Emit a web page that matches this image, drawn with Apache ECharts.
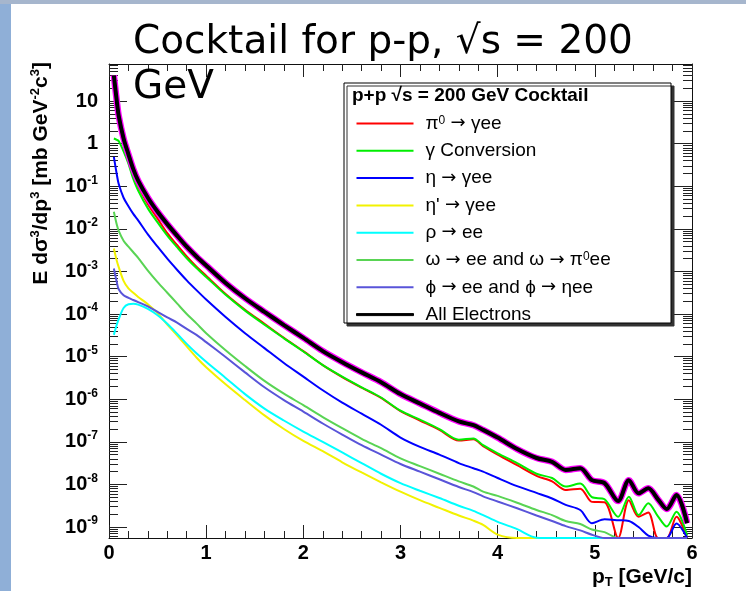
<!DOCTYPE html>
<html>
<head>
<meta charset="utf-8">
<script src="https://cdn.jsdelivr.net/npm/echarts@6/dist/echarts.min.js"></script>
<style>
  html, body { margin: 0; padding: 0; background: #ffffff; }
  #chart { width: 746px; height: 591px; }
</style>
</head>
<body>
<div id="chart"></div>
<script>
// Transverse momentum bin centres (GeV/c)
const pT = [0.05, 0.08, 0.10, 0.15, 0.20, 0.25, 0.30, 0.40, 0.50, 0.60, 0.70, 0.80, 0.90, 1.00,
  1.20, 1.40, 1.60, 1.80, 2.00, 2.20, 2.40, 2.60, 2.80, 3.00, 3.20, 3.40, 3.60, 3.75, 3.85, 4.00,
  4.20, 4.40, 4.56, 4.70, 4.85, 4.97, 5.10, 5.24, 5.35, 5.45, 5.55, 5.65, 5.74, 5.84, 5.95];

// log10 of E d^3sigma/dp^3 [mb GeV^-2 c^3] for each electron source
const log10Pi0 = [1.52, 0.92, 0.55, 0.00, -0.37, -0.74, -1.00, -1.42, -1.76, -2.10, -2.38, -2.65, -2.89, -3.10,
  -3.53, -3.90, -4.23, -4.56, -4.87, -5.20, -5.48, -5.73, -5.97, -6.28, -6.50, -6.72, -6.97, -6.94, -7.10, -7.30,
  -7.55, -7.80, -7.93, -8.13, -8.10, -8.41, -8.42, -9.60, -8.37, -8.76, -8.66, -9.60, -9.60, -8.76, -9.60];
const log10Conversion = [0.12, 0.09, 0.06, -0.18, -0.47, -0.83, -1.10, -1.52, -1.85, -2.16, -2.43, -2.69, -2.92, -3.13,
  -3.55, -3.92, -4.25, -4.57, -4.88, -5.20, -5.47, -5.72, -5.96, -6.27, -6.48, -6.70, -6.95, -6.92, -7.08, -7.27,
  -7.50, -7.75, -7.85, -8.05, -7.98, -8.30, -8.35, -8.76, -8.29, -8.72, -8.44, -8.75, -8.99, -8.64, -9.20];
const log10Eta = [-0.31, -0.72, -0.95, -1.27, -1.47, -1.65, -1.80, -2.13, -2.42, -2.70, -2.96, -3.21, -3.44, -3.66,
  -4.07, -4.45, -4.80, -5.15, -5.47, -5.79, -6.08, -6.34, -6.60, -6.90, -7.12, -7.30, -7.50, -7.62, -7.70, -7.85,
  -8.04, -8.20, -8.33, -8.48, -8.60, -8.91, -8.82, -8.84, -8.86, -9.00, -9.20, -9.60, -9.30, -8.92, -9.60];
const log10EtaPrime = [-2.46, -2.75, -2.90, -3.22, -3.40, -3.50, -3.60, -3.77, -3.98, -4.25, -4.50, -4.76, -5.02, -5.25,
  -5.65, -6.02, -6.38, -6.70, -6.98, -7.22, -7.48, -7.72, -7.95, -8.17, -8.37, -8.55, -8.73, -8.85, -8.95, -9.18,
  -9.60, -9.60, -9.60];
const log10Rho = [-4.49, -4.25, -4.12, -3.86, -3.77, -3.76, -3.78, -3.88, -4.03, -4.23, -4.46, -4.70, -4.92, -5.12,
  -5.50, -5.88, -6.22, -6.50, -6.76, -7.00, -7.25, -7.50, -7.75, -7.97, -8.15, -8.32, -8.50, -8.62, -8.72, -8.88,
  -9.05, -9.25, -9.60, -9.60, -9.60, -9.60, -9.60];
const log10Omega = [-1.60, -1.90, -2.05, -2.28, -2.42, -2.55, -2.68, -2.98, -3.25, -3.50, -3.75, -4.00, -4.22, -4.45,
  -4.85, -5.22, -5.57, -5.87, -6.14, -6.42, -6.68, -6.93, -7.15, -7.39, -7.57, -7.75, -7.93, -8.05, -8.17, -8.27,
  -8.43, -8.60, -8.72, -8.86, -8.93, -9.06, -9.12, -9.60, -9.60, -9.60, -9.60, -9.60, -9.60, -9.60, -9.60];
const log10Phi = [-2.93, -3.25, -3.42, -3.56, -3.62, -3.67, -3.72, -3.82, -3.95, -4.08, -4.20, -4.35, -4.49, -4.66,
  -5.01, -5.37, -5.72, -6.02, -6.29, -6.57, -6.83, -7.08, -7.30, -7.52, -7.70, -7.88, -8.06, -8.18, -8.28, -8.40,
  -8.56, -8.73, -8.86, -8.98, -9.08, -9.18, -9.60, -9.60, -9.60, -9.60, -9.60, -9.60, -9.60, -9.60, -9.60];
const log10AllElectrons = [1.60, 1.00, 0.65, 0.12, -0.25, -0.60, -0.87, -1.27, -1.60, -1.89, -2.16, -2.42, -2.65, -2.86,
  -3.27, -3.63, -3.95, -4.26, -4.56, -4.87, -5.13, -5.37, -5.60, -5.88, -6.10, -6.32, -6.52, -6.61, -6.72, -6.90,
  -7.17, -7.38, -7.47, -7.66, -7.62, -7.90, -7.97, -8.39, -7.90, -8.21, -8.09, -8.35, -8.58, -8.25, -8.91];

// Axis ticks
const xTickValues = [0, 1, 2, 3, 4, 5, 6];
const yDecadeExponents = [1, 0, -1, -2, -3, -4, -5, -6, -7, -8, -9];
const yMinorMantissas = [2, 3, 4, 5, 6, 7, 8, 9];

// Source names, in legend order
const sourceNames = ['pi0', 'conv', 'eta', 'etap', 'rho', 'omega', 'phi', 'all'];
const legendText = {
  pi0: '{t|\u03c0}{s|0}{t| }{a|\u2192}{t| \u03b3ee}',
  conv: '{t|\u03b3 Conversion}',
  eta: '{t|\u03b7 }{a|\u2192}{t| \u03b3ee}',
  etap: '{t|\u03b7\' }{a|\u2192}{t| \u03b3ee}',
  rho: '{t|\u03c1 }{a|\u2192}{t| ee}',
  omega: '{t|\u03c9 }{a|\u2192}{t| ee and \u03c9 }{a|\u2192}{t| \u03c0}{s|0}{t|ee}',
  phi: '{t|\u03d5 }{a|\u2192}{t| ee and \u03d5 }{a|\u2192}{t| \u03b7ee}',
  all: '{t|All Electrons}'
};
const sourceColors = ['#ff0000', '#00ee00', '#0000ff', '#f2f200', '#00ffff', '#59d454', '#5954d9', '#000000'];
const sourceData = [log10Pi0, log10Conversion, log10Eta, log10EtaPrime, log10Rho, log10Omega, log10Phi, log10AllElectrons];

const X_MIN = 0, X_MAX = 6;
const Y_MIN = 5.52e-10, Y_MAX = 74;
const FONT = 'Liberation Sans, Arial, Helvetica, sans-serif';

// points below the frame are drawn along its lower edge
function toPoints(logs) {
  return logs.map((l, i) => [pT[i], Math.max(Math.pow(10, l), Y_MIN)]);
}

const yMajorValues = yDecadeExponents.map(e => Math.pow(10, e));
const yMinorValues = [];
yDecadeExponents.concat([-10]).forEach(e => {
  yMinorMantissas.forEach(m => {
    const v = m * Math.pow(10, e);
    if (v > Y_MIN && v < Y_MAX) yMinorValues.push(v);
  });
});

function yLabel(v) {
  const e = Math.round(Math.log10(v));
  if (e === 1) return '{b|10}';
  if (e === 0) return '{b|1}';
  return '{b|10}{s|' + e + '}';
}

const tickColor = '#222';
const xAxisBase = {
  type: 'value', min: X_MIN, max: X_MAX, interval: 1,
  axisLine: { show: true, onZero: false, lineStyle: { color: '#111', width: 1 } },
  axisTick: { show: true, inside: true, length: 13, lineStyle: { color: tickColor, width: 1 } },
  minorTick: { show: true, splitNumber: 5, length: 7, lineStyle: { color: tickColor, width: 1 } },
  splitLine: { show: false }, minorSplitLine: { show: false }
};
function yAxisOf(position, major, withLabels) {
  return {
    type: 'log', min: Y_MIN, max: Y_MAX, logBase: 10, position: position, offset: 0,
    axisLine: { show: major, onZero: false, lineStyle: { color: '#111', width: 1 } },
    axisTick: {
      show: true, inside: true, length: major ? 18 : 9,
      customValues: major ? yMajorValues : yMinorValues,
      lineStyle: { color: tickColor, width: 1 }
    },
    axisLabel: withLabels ? {
      show: true, margin: 11, customValues: yMajorValues, formatter: yLabel,
      rich: {
        b: { fontFamily: FONT, fontWeight: 'bold', fontSize: 20, color: '#000', lineHeight: 24 },
        s: { fontFamily: FONT, fontWeight: 'bold', fontSize: 12, color: '#000', lineHeight: 12, verticalAlign: 'top' }
      }
    } : { show: false },
    splitLine: { show: false }
  };
}

const series = sourceNames.map((name, k) => ({
  type: 'line', name: name,
  data: toPoints(sourceData[k]),
  showSymbol: false, symbol: 'none',
  smooth: 0.3,
  clip: true,
  lineStyle: { color: sourceColors[k], width: name === 'all' ? 4 : 2 },
  itemStyle: { color: sourceColors[k] },
  z: 3 + k * 0.01
}));
// magenta uncertainty band under the total
series.splice(7, 0, {
  type: 'line', name: 'all-band',
  data: toPoints(log10AllElectrons),
  showSymbol: false, symbol: 'none', smooth: 0.3, clip: true,
  lineStyle: { color: '#ff00ff', width: 6.5 },
  itemStyle: { color: '#ff00ff' },
  z: 3.06
});

const chart = echarts.init(document.getElementById('chart'), null, { renderer: 'canvas' });

const graphics = [
  // slide edges
  { type: 'rect', shape: { x: 0, y: 0, width: 11, height: 591 }, style: { fill: '#8fafd7' }, z: 0, silent: true },
  { type: 'rect', shape: { x: 0, y: 0, width: 746, height: 4 }, style: { fill: '#a6b6cd' }, z: 0, silent: true },
  // legend frame with shadow
  { type: 'rect', shape: { x: 344, y: 83, width: 327, height: 240 },
    style: { fill: '#ffffff', stroke: '#000000', lineWidth: 1, shadowColor: '#333333', shadowOffsetX: 3, shadowOffsetY: 3, shadowBlur: 0 },
    z: 5, silent: true },
  { type: 'text', x: 352, y: 96, z: 6, silent: true,
    style: { text: 'p+p \u221As = 200 GeV Cocktail', font: 'bold 19px ' + FONT, fill: '#000', align: 'left', verticalAlign: 'middle' } },
  // y axis title
  { type: 'text', x: 41, y: 62, rotation: Math.PI / 2, z: 6, silent: true,
    style: {
      text: '{b|E d\u03c3}{s|3}{b|/dp}{s|3}{b| [mb GeV}{s|-2}{b|c}{s|3}{b|]}',
      align: 'right', verticalAlign: 'middle', fill: '#000',
      rich: {
        b: { font: 'bold 21px ' + FONT, lineHeight: 24, fill: '#000' },
        s: { font: 'bold 13px ' + FONT, lineHeight: 13, verticalAlign: 'top', fill: '#000' }
      }
    } },
  // x axis title
  { type: 'text', x: 692, y: 577, z: 6, silent: true,
    style: {
      text: '{b|p}{u|T}{b| [GeV/c]}',
      align: 'right', verticalAlign: 'middle', fill: '#000',
      rich: {
        b: { font: 'bold 21px ' + FONT, lineHeight: 24, fill: '#000' },
        u: { font: 'bold 13px ' + FONT, lineHeight: 13, verticalAlign: 'bottom', fill: '#000' }
      }
    } },
  // slide title
  { type: 'text', x: 133, y: 20, z: 20, silent: true,
    style: { text: 'Cocktail for p-p, \u221As = 200\nGeV', font: '39px DejaVu Sans, sans-serif', lineHeight: 45, fill: '#000', align: 'left', verticalAlign: 'top' } }
];

const option = {
  animation: false,
  backgroundColor: '#ffffff',
  grid: { left: 109, right: 54, top: 64, bottom: 53, containLabel: false, outerBoundsMode: 'none' },
  xAxis: [
    Object.assign({}, xAxisBase, {
      position: 'bottom',
      axisLabel: { show: true, customValues: xTickValues, fontFamily: FONT, fontWeight: 'bold', fontSize: 20, color: '#000', margin: 5 }
    }),
    Object.assign({}, xAxisBase, { position: 'top', axisLabel: { show: false } })
  ],
  yAxis: [
    yAxisOf('left', true, true),
    yAxisOf('right', true, false),
    yAxisOf('left', false, false),
    yAxisOf('right', false, false)
  ],
  legend: {
    data: sourceNames.map(n => n === 'all'
      ? { name: n, itemStyle: { color: '#000', borderColor: '#000', borderWidth: 1 } }
      : { name: n }),
    orient: 'vertical', left: 356, top: 114,
    icon: 'rect',
    itemWidth: 57, itemHeight: 2, itemGap: 8.3,
    selectedMode: false,
    padding: 0,
    z: 7,
    formatter: name => legendText[name],
    textStyle: {
      color: '#000',
      padding: [0, 0, 0, 7],
      rich: {
        t: { fontFamily: FONT, fontSize: 19, color: '#000', lineHeight: 18 },
        a: { fontFamily: 'DejaVu Sans, sans-serif', fontSize: 18, color: '#000', lineHeight: 18 },
        s: { fontFamily: FONT, fontSize: 12, color: '#000', lineHeight: 12, verticalAlign: 'top' }
      }
    }
  },
  series: series,
  graphic: graphics
};

chart.setOption(option);
</script>
</body>
</html>
